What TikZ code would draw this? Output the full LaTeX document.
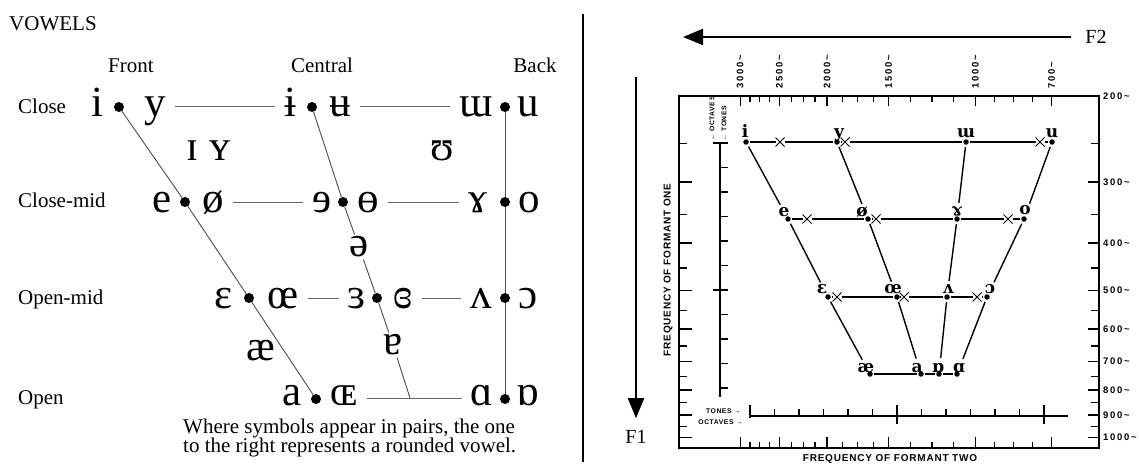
\documentclass[tikz,border=0pt]{standalone}
\usepackage{fontspec}
\setmainfont{Liberation Serif}
\newfontfamily\ipa{Liberation Serif}
\newfontfamily\chs{Liberation Sans}[LetterSpace=8]
\newfontfamily\chw{Liberation Sans}[LetterSpace=18]
\newfontfamily\chipa{DejaVu Serif}
\usetikzlibrary{arrows.meta,shapes.misc}
\begin{document}
\begin{tikzpicture}[x=1pt,y=-1pt,
  lab/.style={font=\fontsize{21}{21}\selectfont, inner sep=0pt},
  sym/.style={font=\ipa\fontsize{43}{43}\selectfont, inner xsep=9pt, inner ysep=0pt, text height=20pt, text depth=0pt, anchor=center},
  symO/.style={sym, text height=14pt},
  symf/.style={font=\ipa\fontsize{43}{43}\selectfont, inner sep=2pt},
  dot/.style={circle, fill=black, inner sep=0pt, minimum size=10pt},
  vline/.style={draw=black!70, line width=0.9pt},
  hline/.style={draw=black!60, line width=0.9pt},
  bigarrow/.style={line width=2pt, -{Triangle[length=20pt,width=16pt]}},
  flab/.style={font=\fontsize{20}{20}\selectfont, inner sep=0pt},
  fr/.style={line width=1.5pt},
  tk/.style={line width=1.3pt},
  tlab/.style={font=\chw\bfseries\fontsize{9.5}{9.5}\selectfont, inner sep=0pt},
  rlab/.style={font=\chw\bfseries\fontsize{9.5}{9.5}\selectfont, inner sep=0pt},
  tiny/.style={font=\chs\bfseries\fontsize{6.8}{6.8}\selectfont, inner sep=0pt},
  axlab/.style={font=\chs\bfseries\fontsize{10}{10}\selectfont, inner sep=0pt},
  cdot/.style={circle, fill=black, inner sep=0pt, minimum size=5.5pt, outer sep=1.5pt},
  cx/.style={cross out, draw=black, line width=1pt, minimum size=6pt, inner sep=0pt, outer sep=1.5pt},
  cl/.style={line width=1.4pt},
  cls/.style={cl, shorten <=1pt, shorten >=12pt},
  clab/.style={font=\chipa\bfseries\fontsize{17}{17}\selectfont, inner sep=0pt, anchor=base}
]
\path[use as bounding box] (0,0) rectangle (1139,463);
\fill[white] (0,0) rectangle (1139,463);

% ---------------- left: vowel chart ----------------
\node[lab, anchor=base west] (title) at (9,30) {VOWELS};
\node[lab, anchor=base] (front) at (131,72) {Front};
\node[lab, anchor=base] (central) at (322,72) {Central};
\node[lab, anchor=base] (back) at (535,72) {Back};
\node[lab, anchor=base west] (rClose) at (18,113) {Close};
\node[lab, anchor=base west] (rCM) at (18,207) {Close-mid};
\node[lab, anchor=base west] (rOM) at (18,304) {Open-mid};
\node[lab, anchor=base west] (rO) at (18,404) {Open};

% close
\node[sym] (i) at (97,106) {i};
\node[sym] (y) at (155,106) {y};
\node[sym] (ibar) at (290,106) {ɨ};
\node[sym] (ubar) at (340,106) {ʉ};
\node[sym] (mturn) at (476,106) {ɯ};
\node[sym] (u) at (528,106) {u};
% close-mid
\node[sym] (e) at (162,202) {e};
\node[sym] (oslash) at (213,202) {ø};
\node[sym] (reve) at (322,202) {ɘ};
\node[sym] (baro) at (368,202) {ɵ};
\node[sym] (ramshorn) at (478,202) {ɤ};
\node[sym] (o) at (529,202) {o};
% open-mid
\node[sym] (eps) at (224,298) {ɛ};
\node[sym] (oe) at (283,298) {œ};
\node[sym] (reveps) at (357,298) {ɜ};
\node[sym] (closedreveps) at (403,298) {ɞ};
\node[sym] (turnv) at (481,298) {ʌ};
\node[sym] (openo) at (528,298) {ɔ};
% open
\node[symO] (a) at (292,398) {a};
\node[symO] (OE) at (344,398) {ɶ};
\node[symO] (scripta) at (482,398) {ɑ};
\node[symO] (turnscripta) at (528,398) {ɒ};
% others
\node[symf, anchor=base] (smallI) at (192,160) {ɪ};
\node[symf, anchor=base] (smallY) at (220,160) {ʏ};
\node[symf, anchor=base] (upsilon) at (442,160) {ʊ};
\node[symf] (schwa) at (359,247) {ə};
\node[symf] (turna) at (393,345) {ɐ};
\node[symf] (ash) at (261,351) {æ};

% dots
\node[dot] (d1a) at (119,107) {};
\node[dot] (d1b) at (312,107) {};
\node[dot] (d1c) at (505,107) {};
\node[dot] (d2a) at (185,202) {};
\node[dot] (d2b) at (343,202) {};
\node[dot] (d2c) at (505,202) {};
\node[dot] (d3a) at (249,298) {};
\node[dot] (d3b) at (377,298) {};
\node[dot] (d3c) at (505,298) {};
\node[dot] (d4a) at (316,399) {};
\node[dot] (d4c) at (505,399) {};
\coordinate (cEnd) at (410,398);

% slanted / vertical lines
\draw[vline] (d1a) -- (d2a) -- (d3a) -- (d4a);
\draw[vline] (d1b) -- (d2b) -- (schwa) -- (d3b) -- (turna) -- (cEnd);
\draw[vline] (d1c) -- (d2c) -- (d3c) -- (d4c);
% horizontal lines
\draw[hline] (y) -- (ibar);
\draw[hline] (ubar) -- (mturn);
\draw[hline] (oslash) -- (reve);
\draw[hline] (baro) -- (ramshorn);
\draw[hline] (oe) -- (reveps);
\draw[hline] (closedreveps) -- (turnv);
\draw[hline] (OE) -- (scripta);

\node[lab, anchor=base west] (cap1) at (183,433) {Where symbols appear in pairs, the one};
\node[lab, anchor=base west] (cap2) at (183,452) {to the right represents a rounded vowel.};

% divider
\coordinate (dvt) at (583,14);
\coordinate (dvb) at (583,462);
\draw[line width=2pt] (dvt) -- (dvb);

% ---------------- right: formant chart ----------------
\node[flab] (F2) at (1096,37) {F2};
\coordinate (f2tip) at (683,37);
\draw[bigarrow] ([xshift=-14pt]F2.west) -- (f2tip);
\node[flab] (F1) at (636,437) {F1};
\coordinate (f1top) at (636,77);
\draw[bigarrow] (f1top) -- ([yshift=12pt]F1.north);

% frame
\draw[fr] (679,96) rectangle (1099,448);

% top and bottom ticks
\foreach \xx/\t in {740.2/3000,779.3/2500,827/2000,888.6/1500,975.3/1000,1051.7/700}{
  \draw[tk] (\xx,96) -- ++(0,10);
  \draw[tk] (\xx,448) -- ++(0,-11);
  \node[tlab, rotate=90, anchor=west] at (\xx,89) {\t\textasciitilde};
}
\foreach \a/\b in {740.2/779.3,779.3/827,827/888.6,888.6/975.3,975.3/1051.7}{
  \foreach \k in {1,2,3}{
    \pgfmathsetmacro\xx{\a+(\b-\a)*\k/4}
    \draw[tk] (\xx,96) -- ++(0,6);
    \draw[tk] (\xx,448) -- ++(0,-6);
  }
}
% left and right ticks
\node[rlab, anchor=west] at (1103,96) {200\textasciitilde};
\foreach \f in {300,400,...,1000}{
  \pgfmathsetmacro\yy{96+212*ln(\f/200)}
  \draw[tk] (1099,\yy) -- ++(-11,0);
  \draw[tk] (679,\yy) -- ++(13,0);
  \node[rlab, anchor=west] at (1103,\yy) {\f\textasciitilde};
}
\foreach \f in {250,350,...,950}{
  \pgfmathsetmacro\yy{96+212*ln(\f/200)}
  \draw[tk] (1099,\yy) -- ++(-8,0);
  \draw[tk] (679,\yy) -- ++(8,0);
}

% vertical tone/octave scale
\draw[tk] (720,143) -- (720,397);
\foreach \k in {0,...,10}{
  \draw[tk] (720,{143+24.5*\k}) -- ++(8,0);
}
\draw[tk] (713,143) -- (728,143);
\draw[tk] (713,290) -- (728,290);
\node[tiny, rotate=90, anchor=west] (octv) at (712,141) {← OCTAVES};
\node[tiny, rotate=90, anchor=west] (tonv) at (724,141) {← TONES};

% horizontal tone/octave scale
\draw[tk] (750,416) -- (1068,416);
\foreach \k in {0,...,12}{
  \draw[tk] ({750+24.5*\k},416) -- ++(0,-7);
}
\draw[tk] (750,405) -- (750,418);
\draw[tk] (897,405) -- (897,424);
\draw[tk] (1044,405) -- (1044,424);
\node[tiny, anchor=east] (tonh) at (741,411) {TONES →};
\node[tiny, anchor=east] (octh) at (743,422) {OCTAVES →};

% axis titles
\node[axlab, rotate=90] (f1lab) at (668,270) {FREQUENCY OF FORMANT ONE};
\node[axlab] (f2lab) at (890,459) {FREQUENCY OF FORMANT TWO};

% vowel points
\node[cdot] (pi) at (746,142) {};
\node[cx] (x11) at (780,142) {};
\node[cdot] (py) at (837,142) {};
\node[cx] (x12) at (845,142) {};
\node[cdot] (pm) at (966,142) {};
\node[cx] (x13) at (1040,142) {};
\node[cdot] (pu) at (1052,142) {};

\node[cdot] (pe) at (788,219) {};
\node[cx] (x21) at (807,219) {};
\node[cdot] (po2) at (868,219) {};
\node[cx] (x22) at (876,219) {};
\node[cdot] (pg) at (957,219) {};
\node[cx] (x23) at (1008,219) {};
\node[cdot] (po) at (1024,219) {};

\node[cdot] (peps) at (828,297) {};
\node[cx] (x31) at (837,297) {};
\node[cdot] (poe) at (897,297) {};
\node[cx] (x32) at (904,297) {};
\node[cdot] (pv) at (947,297) {};
\node[cx] (x33) at (977,297) {};
\node[cdot] (pc) at (987,297) {};

\node[cdot] (pae) at (870,374) {};
\node[cdot] (pa) at (921,374) {};
\node[cdot] (pob) at (939,374) {};
\node[cdot] (pal) at (957,374) {};

\node[clab] (li) at (745,137) {i};
\node[clab] (ly) at (839,137) {y};
\node[clab] (lm) at (966,137) {ɯ};
\node[clab] (lu) at (1052,137) {u};
\node[clab] (le) at (784,216) {e};
\node[clab] (lo2) at (862,216) {ø};
\node[clab] (lg) at (957,215) {ɤ};
\node[clab] (lo) at (1025,214) {o};
\node[clab] (leps) at (822,293) {ɛ};
\node[clab] (loe) at (893,293) {œ};
\node[clab] (lv) at (948,293) {ʌ};
\node[clab] (lc) at (990,293) {ɔ};
\node[clab] (lae) at (866,372) {æ};
\node[clab] (la) at (917,372) {a};
\node[clab] (lob) at (938,372) {ɒ};
\node[clab] (lal) at (959,372) {ɑ};

% horizontal connectors
\draw[cl] (pi) -- (x11) -- (py) -- (x12) -- (pm) -- (x13) -- (pu);
\draw[cl] (pe) -- (x21) -- (po2) -- (x22) -- (pg) -- (x23) -- (po);
\draw[cl] (peps) -- (x31) -- (poe) -- (x32) -- (pv) -- (x33) -- (pc);
\draw[cl] (pae) -- (pa) -- (pob) -- (pal);
% slanted connectors
\draw[cls] (pi) -- (pe);
\draw[cls] (pe) -- (peps);
\draw[cls] (peps) -- (pae);
\draw[cls] (py) -- (po2);
\draw[cls] (po2) -- (poe);
\draw[cls] (poe) -- (pa);
\draw[cls] (pm) -- (pg);
\draw[cls] (pg) -- (pv);
\draw[cls] (pv) -- (pob);
\draw[cls] (pu) -- (po);
\draw[cls] (po) -- (pc);
\draw[cls] (pc) -- (pal);
\end{tikzpicture}
\end{document}
